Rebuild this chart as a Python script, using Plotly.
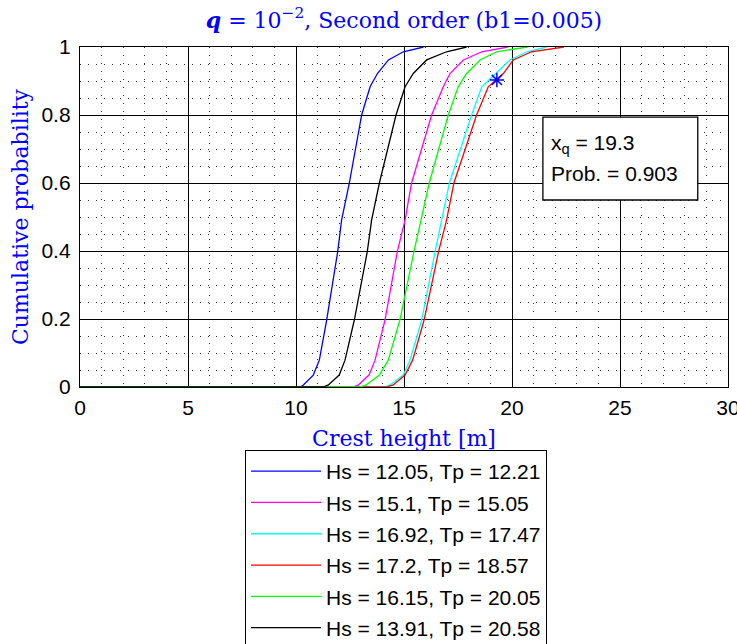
import plotly.graph_objects as go

# Cumulative probability levels (shared by all curves)
prob_levels = [0, 0, 0.006, 0.035, 0.079, 0.197, 0.398, 0.491, 0.6, 0.8, 0.883, 0.922, 0.962, 0.986, 1.0]

# Crest heights [m] for each sea state
crest_blue    = [0, 10.20, 10.34, 10.80, 11.08, 11.42, 11.93, 12.11, 12.47, 13.04, 13.43, 13.77, 14.28, 14.97, 15.90]
crest_magenta = [0, 12.65, 12.89, 13.38, 13.66, 14.12, 14.69, 15.05, 15.35, 16.28, 16.82, 17.13, 17.75, 18.60, 19.80]
crest_cyan    = [0, 14.12, 14.35, 14.97, 15.28, 15.82, 16.44, 16.74, 17.10, 18.13, 18.60, 19.25, 19.90, 20.70, 21.60]
crest_red     = [0, 14.20, 14.50, 15.05, 15.40, 15.93, 16.60, 16.97, 17.31, 18.36, 18.90, 19.60, 20.06, 20.90, 22.40]
crest_green   = [0, 12.95, 13.25, 13.86, 14.27, 14.81, 15.46, 15.79, 16.17, 17.05, 17.51, 17.90, 18.52, 19.29, 20.70]
crest_black   = [0, 11.26, 11.50, 12.00, 12.27, 12.70, 13.30, 13.50, 13.86, 14.63, 15.05, 15.43, 16.05, 16.97, 17.90]

series_names = [
    "Hs = 12.05, Tp = 12.21",
    "Hs = 15.1, Tp = 15.05",
    "Hs = 16.92, Tp = 17.47",
    "Hs = 17.2, Tp = 18.57",
    "Hs = 16.15, Tp = 20.05",
    "Hs = 13.91, Tp = 20.58",
]
series_x = [crest_blue, crest_magenta, crest_cyan, crest_red, crest_green, crest_black]
series_colors = ["#0000FF", "#FF00FF", "#00FFFF", "#FF0000", "#00FF00", "#000000"]

xq = 19.3
prob_q = 0.903

x_ticks = [0, 5, 10, 15, 20, 25, 30]
y_ticks = [0, 0.2, 0.4, 0.6, 0.8, 1]
y_tick_text = ["0", "0.2", "0.4", "0.6", "0.8", "1"]

fig = go.Figure()
for i, (name, xs, col) in enumerate(zip(series_names, series_x, series_colors)):
    fig.add_trace(go.Scatter(
        x=xs, y=prob_levels, mode="lines", name=name,
        line=dict(color=col, width=1.3), legendgroup=f"g{i}",
    ))

fig.add_trace(go.Scatter(
    x=[xq], y=[prob_q], mode="markers", showlegend=False,
    marker=dict(symbol="asterisk-open", size=12, color="#0000FF",
                line=dict(color="#0000FF", width=1.5)),
))

serif = "DejaVu Serif, Liberation Serif, serif"
sans = "Liberation Sans, Arial, sans-serif"

fig.update_layout(
    width=737, height=644,
    margin=dict(l=80, r=9, t=47, b=257, autoexpand=False),
    paper_bgcolor="white", plot_bgcolor="white",
    title=dict(
        text="<b><i>q</i></b> = 10<sup>−2</sup>, Second order (b1=0.005)",
        x=(80 + 648 / 2) / 737, xanchor="center", y=1 - 20 / 644, yanchor="middle",
        font=dict(family=serif, size=22, color="#0000FF"),
    ),
    xaxis=dict(
        range=[0, 30], tickvals=x_ticks, showgrid=True, gridcolor="#000000", gridwidth=1.3,
        showline=True, linecolor="#000000", linewidth=1.3, mirror=True, zeroline=False,
        ticks="", automargin=False, ticklabelstandoff=2, ticklabeloverflow="allow",
        tickfont=dict(family=sans, size=21, color="#000000"),
        minor=dict(dtick=1, showgrid=True, gridcolor="#333333", gridwidth=1, griddash="1px,7px"),
        title=dict(text="Crest height [m]", font=dict(family=serif, size=22, color="#0000FF"), standoff=12),
    ),
    yaxis=dict(
        range=[0, 1], tickvals=y_ticks, ticktext=y_tick_text, showgrid=True, gridcolor="#000000", gridwidth=1.3,
        showline=True, linecolor="#000000", linewidth=1.3, mirror=True, zeroline=False,
        ticks="", automargin=False, ticklabelstandoff=4, ticklabeloverflow="allow",
        tickfont=dict(family=sans, size=21, color="#000000"),
        minor=dict(dtick=0.05, showgrid=True, gridcolor="#333333", gridwidth=1, griddash="1px,7px"),
        title=dict(text="Cumulative probability", font=dict(family=serif, size=22, color="#0000FF"), standoff=6),
    ),
    legend=dict(
        x=(245 - 80) / 648, y=(387 - 450) / 340, xanchor="left", yanchor="top",
        bordercolor="#000000", borderwidth=1, bgcolor="white",
        font=dict(family=sans, size=21, color="#000000"),
        tracegroupgap=1, itemwidth=70,
    ),
    showlegend=True,
)

# Info box
fig.add_shape(type="rect", xref="x", yref="y", x0=21.43, x1=28.6, y0=0.55, y1=0.794,
              line=dict(color="#000000", width=1.3), fillcolor="white", layer="above")
fig.add_annotation(xref="x", yref="y", x=21.7, y=0.715, xanchor="left", yanchor="middle",
                   text=f"x<sub>q</sub> = {xq}", showarrow=False,
                   font=dict(family=sans, size=21, color="#000000"))
fig.add_annotation(xref="x", yref="y", x=21.7, y=0.627, xanchor="left", yanchor="middle",
                   text=f"Prob. = {prob_q}", showarrow=False,
                   font=dict(family=sans, size=21, color="#000000"))

fig.write_html(
    "out.html",
    config={"displayModeBar": False},
    post_script="document.body.style.margin='0px';document.body.style.overflow='hidden';",
)
